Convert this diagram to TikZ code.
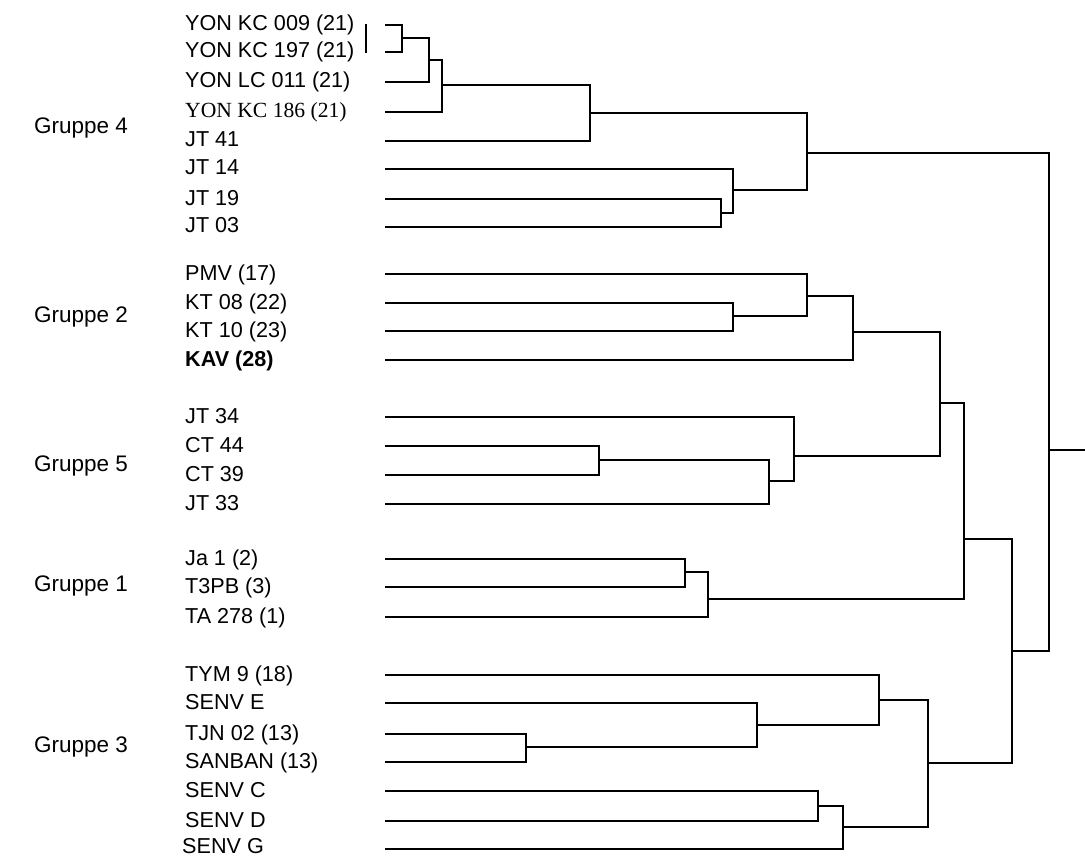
\documentclass[tikz,border=0pt]{standalone}
\usepackage{fontspec}
\setmainfont{Liberation Sans}
\newfontfamily\timesfont{Liberation Serif}
\begin{document}
\begin{tikzpicture}[x=1pt,y=-1pt,
  lbl/.style={anchor=base west,inner sep=0pt,font=\fontsize{21.6}{25}\selectfont},
  grp/.style={anchor=west,inner sep=0pt,font=\fontsize{22.5}{26}\selectfont},
  link/.style={line width=2.8pt},
  thin/.style={line width=1.3pt}]
\useasboundingbox (0,0) rectangle (1085,856);
% leaves
\foreach \n/\y/\t in {
  a1/25/YON KC 009 (21), a2/52/YON KC 197 (21), a3/82/YON LC 011 (21),
  a4/112/{\timesfont YON KC 186 (21)}, a5/141/JT 41, a6/169/JT 14,
  a7/199/JT 19, a8/227/JT 03,
  b1/274/PMV (17), b2/303/KT 08 (22), b3/331/KT 10 (23), b4/360/{\bfseries KAV (28)},
  c1/417/JT 34, c2/446/CT 44, c3/475/CT 39, c4/504/JT 33,
  d1/559/Ja 1 (2), d2/587/T3PB (3), d3/617/TA 278 (1),
  e1/675/TYM 9 (18), e2/703/SENV E, e3/734/TJN 02 (13), e4/762/SANBAN (13),
  e5/791/SENV C, e6/821/SENV D}
  {\node[lbl] (t\n) at (185,\y+6) {\t};
   \coordinate (\n) at (385,\y);}
\node[lbl] (te7) at (182,853) {SENV G};
\coordinate (e7) at (385,849);
% group labels
\node[grp] (g4) at (34,128) {Gruppe 4};
\node[grp] (g2) at (34,317) {Gruppe 2};
\node[grp] (g5) at (34,466) {Gruppe 5};
\node[grp] (g1) at (34,586) {Gruppe 1};
\node[grp] (g3) at (34,747) {Gruppe 3};
% stray mark
\coordinate (s1) at (366,24);
\coordinate (s2) at (366,53);
\draw[thin] (s1) -- (s2);
% internal nodes
\coordinate (n1) at (402,38);
\coordinate (n2) at (429,60);
\coordinate (n3) at (442,85);
\coordinate (n4) at (590,113);
\coordinate (n5) at (721,213);
\coordinate (n6) at (733,190);
\coordinate (n7) at (807,153);
\coordinate (n8) at (733,316);
\coordinate (n9) at (807,296);
\coordinate (n10) at (853,332);
\coordinate (n11) at (599,460);
\coordinate (n12) at (769,481);
\coordinate (n13) at (794,456);
\coordinate (n14) at (940,403);
\coordinate (n15) at (685,572);
\coordinate (n16) at (708,599);
\coordinate (n17) at (964,539);
\coordinate (n18) at (526,747);
\coordinate (n19) at (757,725);
\coordinate (n20) at (879,700);
\coordinate (n21) at (818,806);
\coordinate (n22) at (843,827);
\coordinate (n23) at (928,763);
\coordinate (n24) at (1012,651);
\coordinate (n25) at (1049,450);
\coordinate (root) at (1085,450);
% connectors
\foreach \c/\p in {a1/n1,a2/n1,n1/n2,a3/n2,n2/n3,a4/n3,n3/n4,a5/n4,
  a7/n5,a8/n5,a6/n6,n5/n6,n4/n7,n6/n7,
  b2/n8,b3/n8,b1/n9,n8/n9,n9/n10,b4/n10,
  c2/n11,c3/n11,n11/n12,c4/n12,c1/n13,n12/n13,n10/n14,n13/n14,
  d1/n15,d2/n15,n15/n16,d3/n16,n14/n17,n16/n17,
  e3/n18,e4/n18,e2/n19,n18/n19,e1/n20,n19/n20,
  e5/n21,e6/n21,n21/n22,e7/n22,n20/n23,n22/n23,
  n17/n24,n23/n24,n7/n25,n24/n25}
  {\draw[link] (\c) -| (\p);}
\draw[link] (n25) -- (root);
\end{tikzpicture}
\end{document}
